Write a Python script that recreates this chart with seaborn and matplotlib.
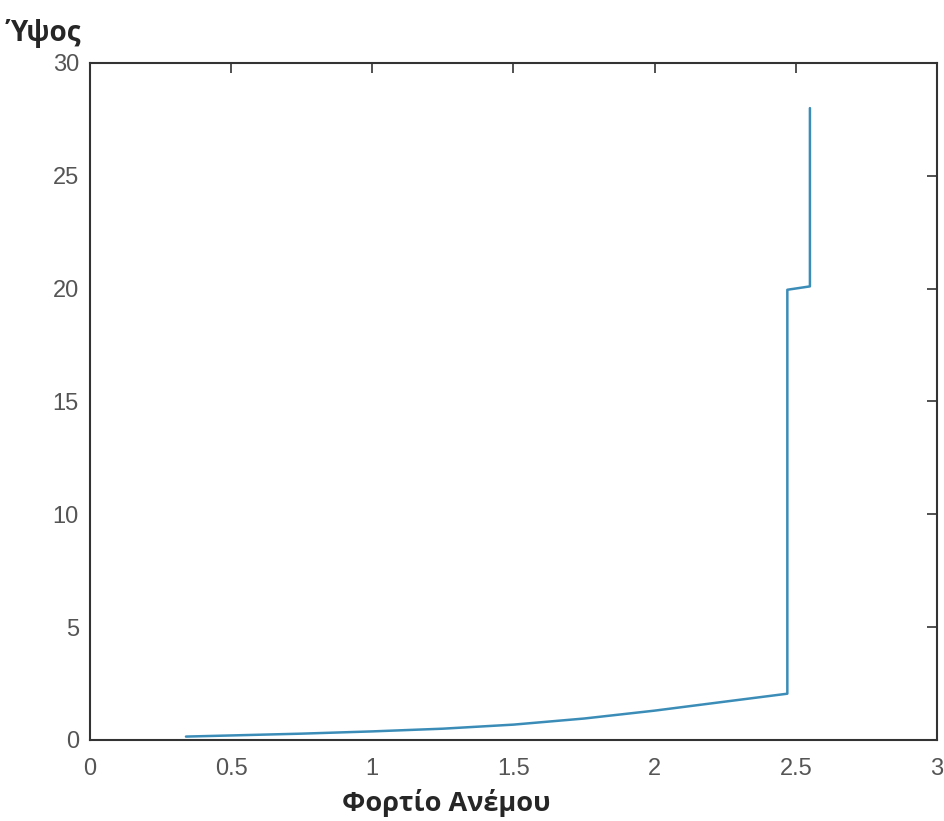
import matplotlib
matplotlib.use("Agg")
import matplotlib.pyplot as plt
import seaborn as sns
import pandas as pd
from matplotlib.ticker import FormatStrFormatter

# wind load vs height
load = [0.34, 0.5, 0.75, 1.0, 1.25, 1.5, 1.75, 2.0, 2.25, 2.47, 2.47, 2.55, 2.55]
height = [0.15, 0.2, 0.28, 0.38, 0.5, 0.68, 0.95, 1.3, 1.7, 2.05, 19.95, 20.1, 28.0]

x_ticks = [0, 0.5, 1, 1.5, 2, 2.5, 3]
y_ticks = [0, 5, 10, 15, 20, 25, 30]

df = pd.DataFrame({"load": load, "height": height})

sns.set_style("white")
plt.rcParams["font.family"] = ["Liberation Sans", "DejaVu Sans"]

fig = plt.figure(figsize=(9.45, 8.21), dpi=100)
ax = fig.add_axes([0.0952, 0.0987, 0.8963, 0.8246])

sns.lineplot(data=df, x="load", y="height", sort=False, estimator=None,
             color="#3b8db8", linewidth=1.8, ax=ax)

ax.set_xlim(0, 3)
ax.set_ylim(0, 30)
ax.set_xticks(x_ticks)
ax.set_yticks(y_ticks)
ax.xaxis.set_major_formatter(FormatStrFormatter("%g"))
ax.set_xlabel("")
ax.set_ylabel("")
ax.tick_params(direction="in", length=7, width=1.2, colors="#333333",
               labelcolor="#555555", labelsize=17, top=True, right=True)
ax.tick_params(axis="x", pad=13)
ax.tick_params(axis="y", pad=8)
for s in ax.spines.values():
    s.set_visible(True)
    s.set_color("#333333")
    s.set_linewidth(1.5)

fig.text(0.0074, 0.95, "Ύψος", fontsize=20, fontweight="bold",
         family=["Open Sans", "DejaVu Sans"], ha="left", va="baseline")
fig.text(0.472, 0.012, "Φορτίο Ανέμου", fontsize=19.5, fontweight="bold",
         family=["Open Sans", "DejaVu Sans"], ha="center", va="baseline")

fig.savefig("out.png", dpi=100)
